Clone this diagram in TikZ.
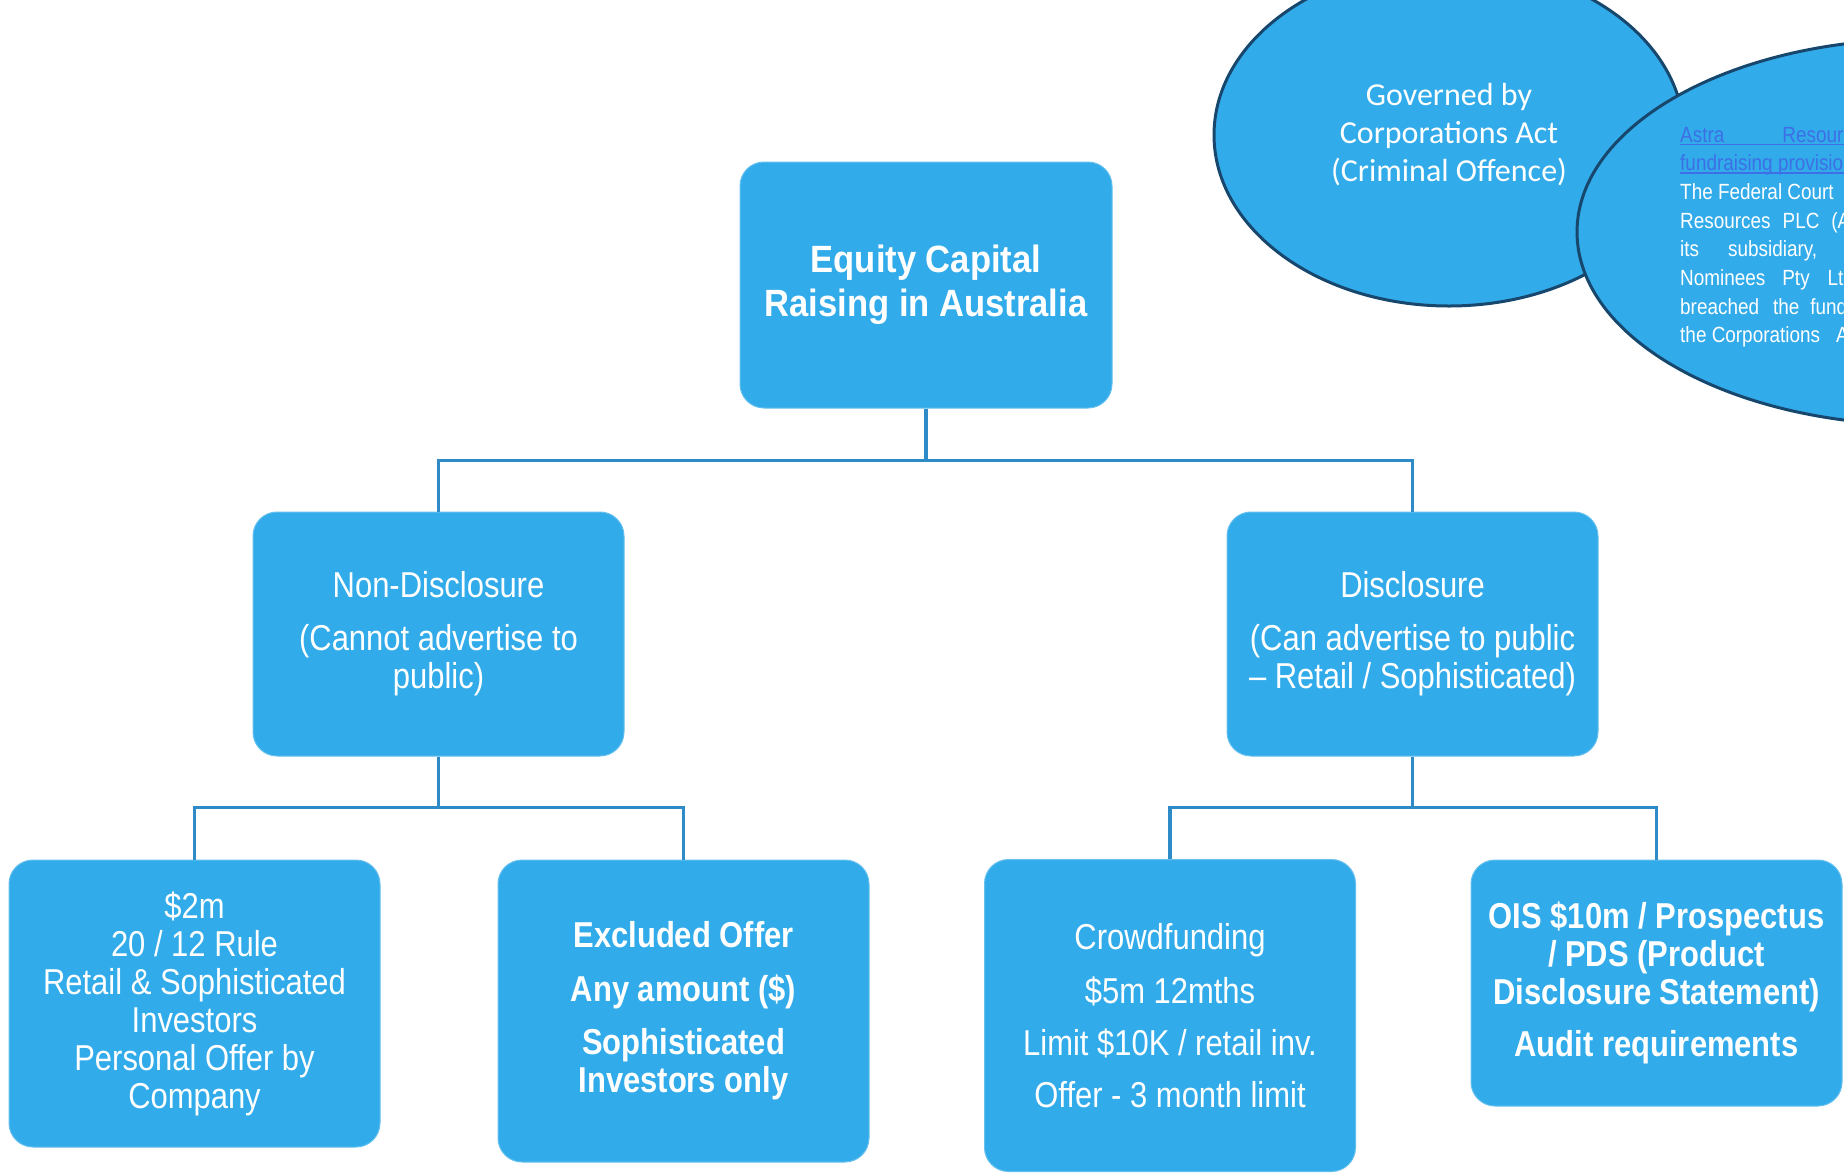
\documentclass[tikz,border=0pt]{standalone}
\usepackage{fontspec}
\setmainfont{Liberation Sans}
\newfontfamily\narrowfont{Liberation Sans}[FakeStretch=0.86]
\newfontfamily\titlefont{Liberation Sans}[FakeStretch=0.91]
\newfontfamily\calfont{Carlito}
\usetikzlibrary{shapes.geometric}
\definecolor{boxblue}{HTML}{32ABEA}
\definecolor{wireblue}{HTML}{2E8BC8}
\definecolor{rimnavy}{HTML}{17476D}
\definecolor{urlblue}{HTML}{3D6FE6}
% underline for the case link
\newcommand{\linkul}[1]{\setbox0\hbox{#1}\rlap{\rule[-3pt]{\wd0}{1.5pt}}\box0}

\begin{document}
\begin{tikzpicture}[
    x=1pt, y=-1pt,
    every node/.style={text=white, inner sep=0pt},
    card/.style={fill=boxblue, draw=boxblue!75!white, line width=1pt, rounded corners=24pt, align=center, minimum width=371pt, font=\narrowfont\fontsize{36}{38}\selectfont},
    boldcard/.style={card, font=\narrowfont\bfseries\fontsize{36}{38}\selectfont},
    oval/.style={ellipse, fill=boxblue, draw=rimnavy, line width=3pt},
    wire/.style={draw=wireblue, line width=3.3pt}
]
    \useasboundingbox (0,0) rectangle (1844,1173);

    % ellipses top right
    \node[oval, minimum width=470pt, minimum height=342pt, align=center, font=\calfont\fontsize{32}{38}\selectfont] (govern) at (1449,135) {Governed by\\Corporations Act\\(Criminal Offence)};
    \node[oval, minimum width=690pt, minimum height=386pt] (astra) at (1922,232) {};
    \foreach \txt [count=\i] in {{\color{urlblue}\linkul{Astra\hspace{58pt}Resources}}, {\color{urlblue}\linkul{fundraising provisions}}, The Federal Court, {Resources\hspace{12pt}PLC\hspace{12pt}(Astra)}, {its\hspace{29pt}subsidiary,}, {Nominees\hspace{17pt}Pty\hspace{18pt}Ltd}, {breached\hspace{14pt}the\hspace{11pt}fundraising}, {the Corporations\hspace{16pt}Act}}
        \node[anchor=base west, font=\narrowfont\fontsize{22}{29}\selectfont] (case\i) at (1680,{142+28.7*(\i-1)}) {\txt};

    % tree
    \node[card, minimum width=372pt, minimum height=246pt, font=\titlefont\bfseries\fontsize{38}{44}\selectfont] (root) at (926,285) {Equity Capital\\Raising in Australia};
    \node[card, minimum height=244pt] (nondisc) at (438.5,634) {Non-Disclosure\\[15pt](Cannot advertise to\\public)};
    \node[card, minimum height=244pt] (disc) at (1412.5,634) {Disclosure\\[15pt](Can advertise to public\\– Retail / Sophisticated)};

    \node[card, minimum height=287pt] (twentytwelve) at (194.5,1003.5) {\$2m\\20 / 12 Rule\\Retail \& Sophisticated\\Investors\\Personal Offer by\\Company};
    \node[boldcard, minimum height=302pt] (excluded) at (683.5,1011) {Excluded Offer\\[16pt]Any amount (\$)\\[15pt]Sophisticated\\Investors only};
    \node[card, minimum height=312pt] (crowd) at (1170,1015.5) {Crowdfunding\\[16pt]\$5m 12mths\\[14pt]Limit \$10K / retail inv.\\[14pt]Offer - 3 month limit};
    \node[boldcard, minimum height=246pt] (prospectus) at (1656.5,983) {OIS \$10m / Prospectus\\/ PDS (Product\\Disclosure Statement)\\[14pt]Audit requirements};

    \draw[wire] (root.south) -- ++(0,52) -| (nondisc.north);
    \draw[wire] (root.south) -- ++(0,52) -| (disc.north);
    \draw[wire] (nondisc.south) -- ++(0,51) -| (twentytwelve.north);
    \draw[wire] (nondisc.south) -- ++(0,51) -| (excluded.north);
    \draw[wire] (disc.south) -- ++(0,51) -| (crowd.north);
    \draw[wire] (disc.south) -- ++(0,51) -| (prospectus.north);
\end{tikzpicture}
\end{document}
